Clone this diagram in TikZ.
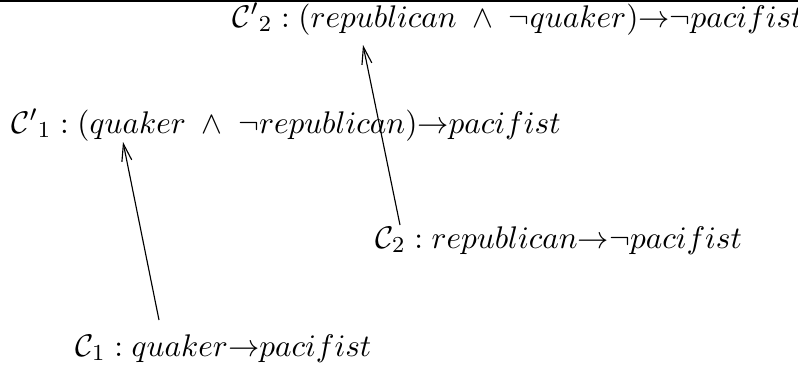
\documentclass[tikz,border=0pt]{standalone}
\usepackage{amsmath,amssymb}
\usetikzlibrary{arrows.meta,calc}
\newcommand{\cC}{\mathcal{C}}
\newcommand{\imp}{{\rightarrow}}

\begin{document}
\begin{tikzpicture}[x=0.35pt, y=-0.35pt,
  rule/.style={font=\fontsize{11.1}{13}\selectfont, anchor=base west, inner sep=0pt},
  arr/.style={-{Straight Barb[length=6pt,width=3.5pt]}, thin},
  topline/.style={line width=0.7pt}]
\useasboundingbox (0,0) rectangle (798,369);
% ---------------- frame line ----------------
\draw[topline] (0,1) -- (798,1);
% ---------------- generalised rules ----------------
\node[rule] (c2p) at (232,27)
  {${\cC'}_2 : (republican \;\wedge\; \neg quaker)\imp\neg pacifist$};
\node[rule] (c1p) at (11,133)
  {${\cC'}_1 : (quaker \;\wedge\; \neg republican)\imp pacifist$};
% ---------------- original rules ----------------
\node[rule] (c2) at (375,248) {$\cC_2 : republican\imp\neg pacifist$};
\node[rule] (c1) at (75,356) {$\cC_1 : quaker\imp pacifist$};
% specialisation arrows
\draw[arr] ($(c1.base west)+(84,-36)$) -- ($(c1p.base west)+(112,9)$);
\draw[arr] ($(c2.base west)+(25,-23)$) -- ($(c2p.base west)+(131,18)$);
\end{tikzpicture}
\end{document}
